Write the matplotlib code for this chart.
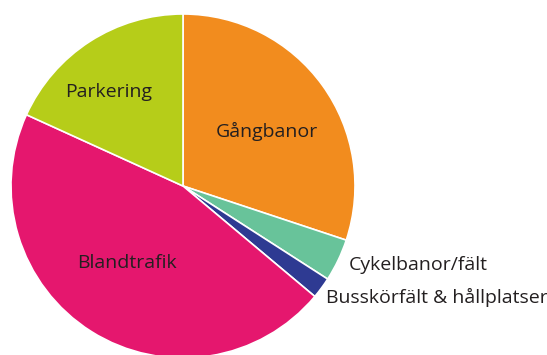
import matplotlib
matplotlib.use("Agg")
import matplotlib.pyplot as plt

categories = ["Gångbanor", "Cykelbanor/fält", "Busskörfält & hållplatser", "Blandtrafik", "Parkering"]
values = [30.1, 4.0, 2.0, 45.7, 18.2]
colors = ["#F28C1E", "#68C39A", "#2E3A92", "#E5176E", "#B6CD19"]

W, H = 547, 355
fig = plt.figure(figsize=(W / 100, H / 100), dpi=100)
cx, cy, r = 183, 186, 172
ax = fig.add_axes([(cx - r) / W, (H - cy - r) / H, 2 * r / W, 2 * r / H])
ax.pie(values, colors=colors, startangle=90, counterclock=False, radius=1,
       wedgeprops=dict(edgecolor="white", linewidth=1.2))
ax.set_xlim(-1, 1)
ax.set_ylim(-1, 1)
ax.set_axis_off()

def d(px, py):
    return (px - cx) / r, (cy - py) / r

font = dict(family=["Open Sans", "DejaVu Sans"], fontsize=14, color="#231F20")
label_pos = {
    "Gångbanor": (d(267, 131), "center"),
    "Cykelbanor/fält": (d(349, 265), "left"),
    "Busskörfält & hållplatser": (d(326, 297), "left"),
    "Blandtrafik": (d(127, 263), "center"),
    "Parkering": (d(109, 92), "center"),
}
for cat in categories:
    (x, y), ha = label_pos[cat]
    ax.text(x, y, cat, ha=ha, va="center", clip_on=False, **font)

fig.savefig("out.png", dpi=100)
